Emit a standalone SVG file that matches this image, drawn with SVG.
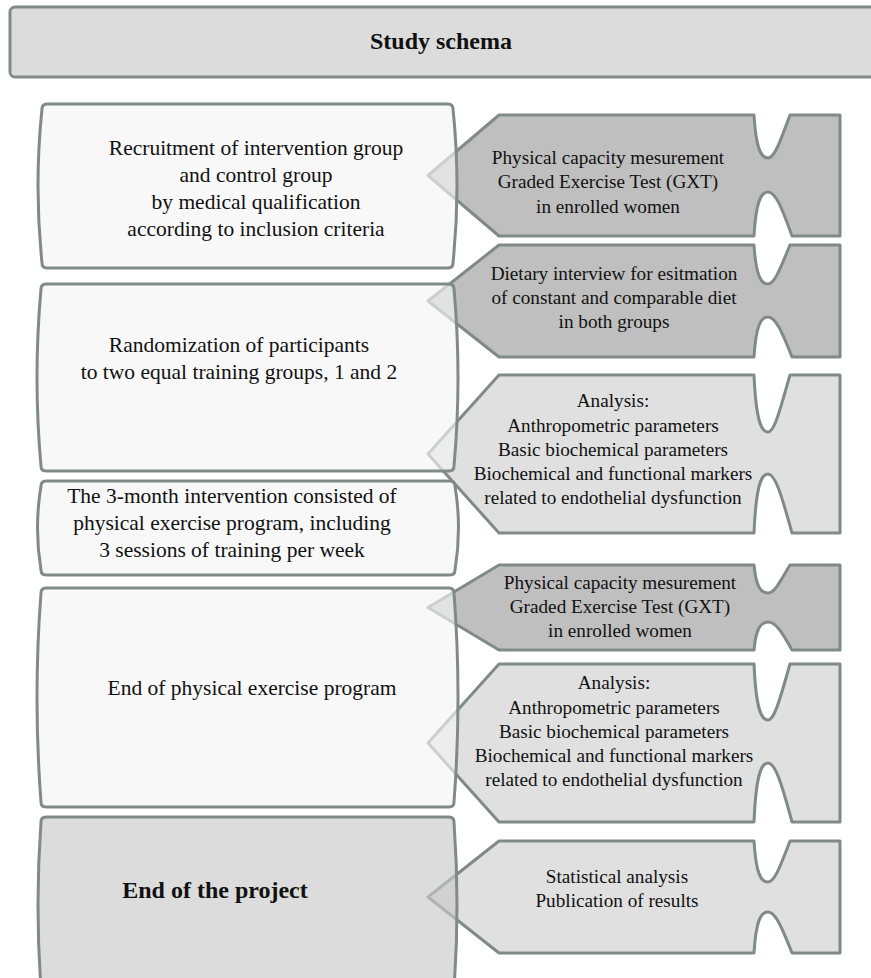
<svg xmlns="http://www.w3.org/2000/svg" width="871" height="978" viewBox="0 0 871 978" font-family="'Liberation Serif', 'DejaVu Serif', serif">
  <style>
    .edge { stroke: #808b86; stroke-width: 3; stroke-linejoin: round; }
    .step { fill: #f4f4f4; fill-opacity: 0.65; }
    .final { fill: #c9c9c9; fill-opacity: 0.65; }
    .dark { fill: #bfbfbf; }
    .light { fill: #e0e0e0; }
    .head { fill: #dcdcdc; }
    text { fill: #111; text-anchor: middle; }
    .lt { font-size: 21.5px; }
    .rt { font-size: 19.2px; }
    .bt { font-size: 24px; font-weight: bold; }
  </style>

  <!-- title bar -->
  <g id="header">
    <rect class="head edge" x="10" y="7" width="872" height="70" rx="5"/>
    <text class="bt" x="441" y="49">Study schema</text>
  </g>

  <!-- notched pointer shapes on the right (drawn first, the step boxes sit over their tips) -->
  <g id="arrows">
    <g id="gxt-before">
      <path class="dark edge" d="M428,175.5 L499,115 H754 C756,149 761,158 768,158 C774,158 779,145 790,115 H840 V236 H792 C781,205 775,192 768,192 C761,192 756,201 754,236 H499 Z"/>
      <text class="rt" x="608" y="164">Physical capacity mesurement</text>
      <text class="rt" x="608" y="188">Graded Exercise Test (GXT)</text>
      <text class="rt" x="608" y="213">in enrolled women</text>
    </g>
    <g id="diet">
      <path class="dark edge" d="M428,301 L499,245 H754 C756,276 761,284 768,284 C774,284 779,272 790,245 H840 V357 H792 C781,329 775,317 768,317 C761,317 756,325 754,357 H499 Z"/>
      <text class="rt" x="614" y="280">Dietary interview for esitmation</text>
      <text class="rt" x="614" y="304">of constant and comparable diet</text>
      <text class="rt" x="614" y="328">in both groups</text>
    </g>
    <g id="analysis-before">
      <path class="light edge" d="M428,454 L499,375 H754 C756,420 761,432 768,432 C774,432 779,414 790,375 H840 V533 H792 C781,493 775,474 768,474 C761,474 756,486 754,533 H499 Z"/>
      <text class="rt" x="613" y="407">Analysis:</text>
      <text class="rt" x="613" y="432">Anthropometric parameters</text>
      <text class="rt" x="613" y="456">Basic biochemical parameters</text>
      <text class="rt" x="613" y="480">Biochemical and functional markers</text>
      <text class="rt" x="613" y="504">related to endothelial dysfunction</text>
    </g>
    <g id="gxt-after">
      <path class="dark edge" d="M428,607.5 L499,565 H754 C756,587 761,593 768,593 C774,593 779,584 790,565 H840 V650 H792 C781,630 775,622 768,622 C761,622 756,628 754,650 H499 Z"/>
      <text class="rt" x="620" y="589">Physical capacity mesurement</text>
      <text class="rt" x="620" y="613">Graded Exercise Test (GXT)</text>
      <text class="rt" x="620" y="637">in enrolled women</text>
    </g>
    <g id="analysis-after">
      <path class="light edge" d="M428,743 L499,664 H754 C756,709 761,720 768,720 C774,720 779,703 790,664 H840 V822 H792 C781,781 775,763 768,763 C761,763 756,775 754,822 H499 Z"/>
      <text class="rt" x="614" y="689">Analysis:</text>
      <text class="rt" x="614" y="714">Anthropometric parameters</text>
      <text class="rt" x="614" y="738">Basic biochemical parameters</text>
      <text class="rt" x="614" y="762">Biochemical and functional markers</text>
      <text class="rt" x="614" y="786">related to endothelial dysfunction</text>
    </g>
    <g id="results">
      <path class="light edge" d="M428,897 L499,841 H754 C756,874 761,882 768,882 C774,882 779,870 790,841 H840 V953 H792 C781,925 775,912 768,912 C761,912 756,920 754,953 H499 Z"/>
      <text class="rt" x="617" y="883">Statistical analysis</text>
      <text class="rt" x="617" y="907">Publication of results</text>
    </g>
  </g>

  <!-- study steps on the left, sides slightly bowed -->
  <g id="recruitment">
    <path class="step edge" d="M47,104 H448 Q453,104 453,109 Q461,186 453,263 Q453,268 448,268 H47 Q42,268 42,263 Q34,186 42,109 Q42,104 47,104 Z"/>
    <text class="lt" x="256" y="155">Recruitment of intervention group</text>
    <text class="lt" x="256" y="182">and control group</text>
    <text class="lt" x="256" y="209">by medical qualification</text>
    <text class="lt" x="256" y="236">according to inclusion criteria</text>
  </g>
  <g id="randomization">
    <path class="step edge" d="M46,284 H449 Q454,284 454,289 Q462,377.5 454,466 Q454,471 449,471 H46 Q41,471 41,466 Q33,377.5 41,289 Q41,284 46,284 Z"/>
    <text class="lt" x="239" y="352">Randomization of participants</text>
    <text class="lt" x="239" y="379">to two equal training groups, 1 and 2</text>
  </g>
  <g id="intervention">
    <path class="step edge" d="M46,481 H450 Q455,481 455,486 Q462,528 455,570 Q455,575 450,575 H46 Q41,575 41,570 Q34,528 41,486 Q41,481 46,481 Z"/>
    <text class="lt" x="232" y="503">The 3-month intervention consisted of</text>
    <text class="lt" x="232" y="530">physical exercise program, including</text>
    <text class="lt" x="232" y="557">3 sessions of training per week</text>
  </g>
  <g id="program-end">
    <path class="step edge" d="M46,588 H449 Q454,588 454,593 Q462,697.5 454,802 Q454,807 449,807 H46 Q41,807 41,802 Q33,697.5 41,593 Q41,588 46,588 Z"/>
    <text class="lt" x="252" y="695">End of physical exercise program</text>
  </g>
  <g id="project-end">
    <path class="final edge" d="M46,817 H449 Q454,817 454,822 Q460,905 454,988 H41 Q35,905 41,822 Q41,817 46,817 Z"/>
    <text class="bt" x="215" y="898">End of the project</text>
  </g>
</svg>
